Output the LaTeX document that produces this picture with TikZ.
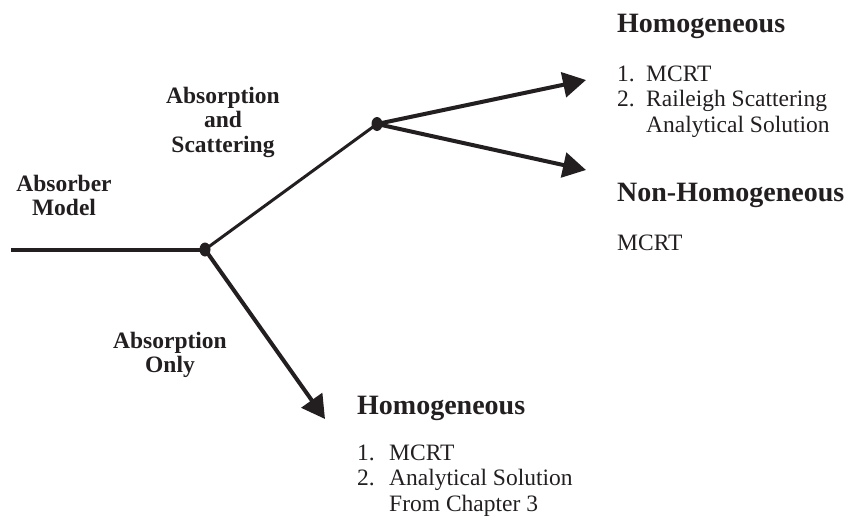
\documentclass[tikz,border=0pt]{standalone}
\usepackage{fontspec}
\setmainfont{Liberation Serif}
\usetikzlibrary{arrows.meta,shapes.geometric}
\definecolor{ink}{HTML}{231F20}
\newcommand\resultfont{\fontsize{28}{32}\bfseries}
\newcommand\branchfont{\fontsize{23.5}{24.5}\bfseries}
\newcommand\methodfont{\fontsize{23.5}{25.5}\selectfont}

\tikzset{
  junction/.style={ellipse, fill=ink, inner sep=0pt, minimum width=11pt, minimum height=14pt},
  branch/.style={draw=ink, line width=4pt},
  arrowbranch/.style={branch, -{Triangle[length=23pt,width=25pt]}},
  every node/.style={text=ink, inner sep=0pt}
}

\begin{document}
\begin{tikzpicture}[x=1pt, y=-1pt]
\useasboundingbox (0,0) rectangle (847,517);
\coordinate (start) at (11,249.5);
\node[junction] (split) at (205,249.5) {};
\node[junction] (scatter) at (377,124) {};
\coordinate (homtip) at (586,80);
\coordinate (nonhomtip) at (586,170);
\coordinate (abstip) at (325,419);
\draw [branch] (start) -- (split.center);
\draw [branch, line width=3pt] (split.center) -- (scatter.center);
\draw [arrowbranch] (scatter.center) -- (homtip);
\draw [arrowbranch] (scatter.center) -- (nonhomtip);
\draw [arrowbranch] (split.center) -- (abstip);
\node[anchor=base] (model) at (64,191) {\branchfont\begin{tabular}[t]{@{}c@{}}Absorber\\Model\end{tabular}};
\node[anchor=base] (absscat) at (223,103) {\branchfont\begin{tabular}[t]{@{}c@{}}Absorption\\and\\Scattering\end{tabular}};
\node[anchor=base] (absonly) at (170,348) {\branchfont\begin{tabular}[t]{@{}c@{}}Absorption\\Only\end{tabular}};
\node[anchor=base west] (hom) at (617,32) {\resultfont Homogeneous};
\node[anchor=base west] (hommethods) at (617,81) {\methodfont\begin{tabular}[t]{@{}p{29pt}@{}l@{}}1. & MCRT\\2. & Raileigh Scattering\\ & Analytical Solution\end{tabular}};
\node[anchor=base west] (nonhom) at (617,201) {\resultfont Non-Homogeneous};
\node[anchor=base west] (nonhommethods) at (617,250) {\methodfont MCRT};
\node[anchor=base west] (abshom) at (357,414) {\resultfont Homogeneous};
\node[anchor=base west] (abshommethods) at (357,460) {\methodfont\begin{tabular}[t]{@{}p{32pt}@{}l@{}}1. & MCRT\\2. & Analytical Solution\\ & From Chapter 3\end{tabular}};
\end{tikzpicture}
\end{document}
